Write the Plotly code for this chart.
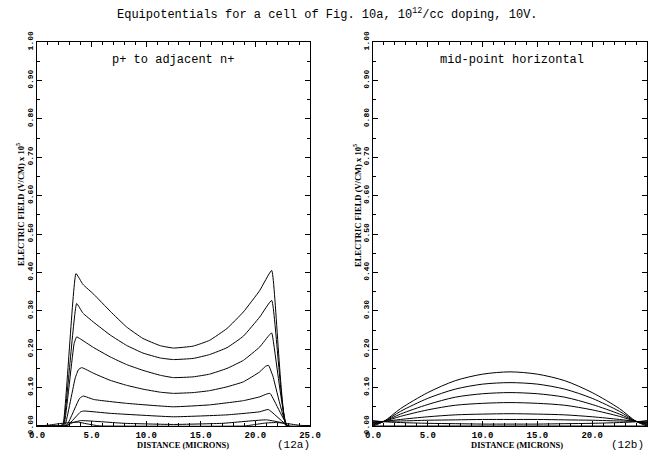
import plotly.graph_objects as go

# ---- field profiles, p+ to adjacent n+ (12a) ----
# distance in microns, field in units of 1e5 V/cm
A1_X = [0, 2.1, 2.4, 3.57, 4.2, 5.2, 6.7, 8.2, 9.7, 11.3, 12.5, 14.3, 15.8, 17.4, 18.9, 20.4, 21.49, 22.85, 25]
A1_Y = [0, 0, 0.007, 0.397, 0.369, 0.343, 0.299, 0.258, 0.228, 0.209, 0.203, 0.208, 0.223, 0.254, 0.297, 0.353, 0.405, 0, 0]

A2_X = [0, 2.2, 2.45, 3.63, 4.2, 5.2, 6.7, 8.2, 9.7, 11.3, 12.5, 14.3, 15.8, 17.4, 18.9, 20.4, 21.49, 22.85, 25]
A2_Y = [0, 0, 0.007, 0.319, 0.294, 0.270, 0.237, 0.210, 0.190, 0.177, 0.173, 0.176, 0.186, 0.204, 0.234, 0.284, 0.327, 0, 0]

A3_X = [0, 2.3, 2.5, 3.4, 3.63, 3.9, 5.2, 6.7, 8.2, 9.7, 11.3, 12.5, 14.3, 15.8, 17.4, 18.9, 20.4, 21.3, 21.5, 22.9, 25]
A3_Y = [0, 0, 0.006, 0.215, 0.232, 0.228, 0.204, 0.180, 0.160, 0.145, 0.132, 0.126, 0.128, 0.135, 0.150, 0.171, 0.206, 0.238, 0.242, 0, 0]

A4_X = [0, 2.4, 2.6, 3.5, 3.8, 4.1, 5.2, 6.7, 8.2, 9.7, 11.3, 12.5, 14.3, 15.8, 17.4, 18.9, 20.4, 20.9, 21.2, 21.6, 22.9, 25]
A4_Y = [0, 0, 0.005, 0.125, 0.147, 0.152, 0.137, 0.119, 0.106, 0.096, 0.088, 0.085, 0.087, 0.092, 0.102, 0.115, 0.141, 0.155, 0.158, 0.130, 0, 0]

A5_X = [0, 2.5, 2.8, 3.9, 4.24, 5.2, 8.2, 12.5, 15.8, 18.9, 20.4, 21.0, 21.34, 23.0, 25]
A5_Y = [0, 0, 0.005, 0.072, 0.078, 0.069, 0.059, 0.050, 0.055, 0.066, 0.076, 0.083, 0.085, 0, 0]

A6_X = [0, 2.6, 2.9, 4.0, 4.3, 6.7, 12.5, 17.4, 20.4, 21.18, 23.0, 25]
A6_Y = [0, 0, 0.004, 0.037, 0.039, 0.033, 0.024, 0.029, 0.037, 0.043, 0, 0]

A7_X = [0, 2.7, 3.2, 4.0, 8.0, 12.5, 17.0, 21.0, 22.5, 23.0, 25]
A7_Y = [0, 0, 0.008, 0.014, 0.007, 0.004, 0.007, 0.016, 0.008, 0, 0]

A8_X = [0, 1.0, 2.0, 3.0, 3.8, 4.5, 5.5, 6.0, 19.0, 20.0, 21.0, 22.0, 23.0, 24.0, 25]
A8_Y = [0, 0.002, 0.006, 0.009, 0.010, 0.006, 0.001, 0, 0, 0.004, 0.008, 0.009, 0.006, 0.002, 0]

# ---- field profiles, mid-point horizontal (12b) ----
B_X = [0, 1.0, 2.5, 5.0, 7.5, 10.0, 12.5, 15.0, 17.5, 20.0, 22.5, 24.0, 25]
B1_Y = [0.000, 0.012, 0.045, 0.087, 0.118, 0.135, 0.141, 0.135, 0.118, 0.087, 0.045, 0.012, 0.000]
B2_Y = [0.003, 0.012, 0.038, 0.072, 0.096, 0.109, 0.113, 0.109, 0.096, 0.072, 0.038, 0.012, 0.003]
B3_Y = [0.005, 0.012, 0.031, 0.056, 0.075, 0.084, 0.087, 0.084, 0.075, 0.056, 0.031, 0.012, 0.005]
B4_Y = [0.007, 0.012, 0.025, 0.042, 0.054, 0.059, 0.061, 0.059, 0.054, 0.042, 0.025, 0.012, 0.007]
B5_Y = [0.009, 0.012, 0.017, 0.024, 0.029, 0.031, 0.032, 0.031, 0.029, 0.024, 0.017, 0.012, 0.009]
B6_Y = [0.011, 0.012, 0.013, 0.015, 0.016, 0.017, 0.017, 0.017, 0.016, 0.015, 0.013, 0.012, 0.011]
B7_Y = [0.014, 0.011, 0.009, 0.007, 0.006, 0.005, 0.005, 0.005, 0.006, 0.007, 0.009, 0.011, 0.014]
B8_Y = [0, 0, 0, 0, 0, 0, 0, 0, 0, 0, 0, 0, 0]

X_TICKS = [0, 5, 10, 15, 20, 25]
X_TICK_TEXT = ["0.0", "5.0", "10.0", "15.0", "20.0", "25.0"]
Y_TICKS = [0.0, 0.1, 0.2, 0.3, 0.4, 0.5, 0.6, 0.7, 0.8, 0.9, 1.0]
Y_TICK_TEXT = ["0.00", "0.10", "0.20", "0.30", "0.40", "0.50", "0.60", "0.70", "0.80", "0.90", "1.00"]

MONO = "Liberation Mono"
SERIF = "Liberation Serif"

fig = go.Figure()

left_curves = [(A1_X, A1_Y), (A2_X, A2_Y), (A3_X, A3_Y), (A4_X, A4_Y),
               (A5_X, A5_Y), (A6_X, A6_Y), (A7_X, A7_Y), (A8_X, A8_Y)]
for xs, ys in left_curves:
    fig.add_trace(go.Scatter(x=xs, y=ys, mode="lines",
                             line=dict(color="black", width=1, shape="spline", smoothing=0.35),
                             xaxis="x", yaxis="y", showlegend=False,
                             hoverinfo="skip"))

for ys in [B1_Y, B2_Y, B3_Y, B4_Y, B5_Y, B6_Y, B7_Y, B8_Y]:
    fig.add_trace(go.Scatter(x=B_X, y=ys, mode="lines",
                             line=dict(color="black", width=1, shape="spline", smoothing=0.8),
                             xaxis="x2", yaxis="y2", showlegend=False,
                             hoverinfo="skip"))


def xaxis_style(domain, anchor):
    return dict(
        domain=domain, anchor=anchor, range=[0, 25],
        showline=True, linecolor="black", linewidth=1, mirror="allticks",
        ticks="inside", ticklen=5, tickcolor="black", tickwidth=1,
        tickvals=X_TICKS, ticktext=X_TICK_TEXT,
        tickfont=dict(family=MONO, size=9, color="black", weight="bold"),
        minor=dict(ticks="inside", dtick=1, ticklen=3, tickcolor="black", tickwidth=1),
        showgrid=False, zeroline=False, fixedrange=True, automargin=False,
    )


def yaxis_style(anchor):
    return dict(
        domain=[1 - 426 / 458, 1 - 42 / 458], anchor=anchor, range=[0, 1],
        showline=True, linecolor="black", linewidth=1, mirror="allticks",
        ticks="inside", ticklen=5, tickcolor="black", tickwidth=1,
        tickvals=Y_TICKS, ticktext=Y_TICK_TEXT, tickangle=-90,
        tickfont=dict(family=MONO, size=8, color="black", weight="bold"),
        minor=dict(ticks="inside", dtick=0.05, ticklen=3, tickcolor="black", tickwidth=1),
        showgrid=False, zeroline=False, fixedrange=True, automargin=False,
    )


fig.update_layout(
    width=654, height=458,
    margin=dict(l=0, r=0, t=0, b=0, pad=0, autoexpand=False),
    paper_bgcolor="white", plot_bgcolor="white",
    xaxis=xaxis_style([37 / 654, 310 / 654], "y"),
    yaxis=yaxis_style("x"),
    xaxis2=xaxis_style([373 / 654, 647 / 654], "y2"),
    yaxis2=yaxis_style("x2"),
)


def note(text, px, py, font, angle=0):
    return dict(text=text, x=px / 654, y=1 - py / 458, xref="paper", yref="paper",
                xanchor="center", yanchor="middle", showarrow=False,
                textangle=angle, font=font)


ann = [
    note("Equipotentials for a cell of Fig. 10a, 10<sup>12</sup>/cc doping, 10V.", 327, 14,
         dict(family=MONO, size=12, color="black")),
    note("p+ to adjacent n+", 173, 60, dict(family=MONO, size=12, color="black")),
    note("mid-point horizontal", 512, 60, dict(family=MONO, size=12, color="black")),
]
for xc in (20, 357):
    ann.append(note("ELECTRIC FIELD (V/CM) x 10<sup>5</sup>", xc, 205,
                    dict(family=SERIF, size=8.5, color="black", weight="bold"), angle=-90))
for xc in (183, 517):
    ann.append(note("DISTANCE (MICRONS)", xc, 445,
                    dict(family=SERIF, size=8.5, color="black", weight="bold")))
for xc, lab in ((293, "(12a)"), (627, "(12b)")):
    ann.append(note(lab, xc, 445, dict(family=MONO, size=11, color="black")))
fig.update_layout(annotations=ann)

fig.write_html("out.html")
